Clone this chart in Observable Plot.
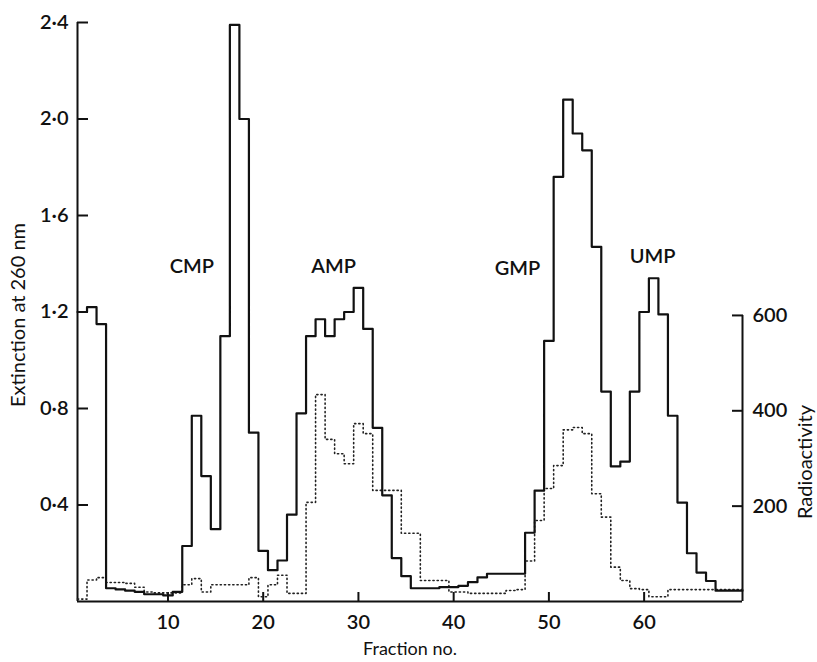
<!DOCTYPE html>
<html>
<head>
<meta charset="utf-8">
<script src="https://cdn.jsdelivr.net/npm/d3@7"></script>
<script src="https://cdn.jsdelivr.net/npm/@observablehq/plot@0.6"></script>
<style>
  html, body { margin: 0; padding: 0; background: #fff; }
  #chart svg { display: block; }
</style>
</head>
<body>
<div id="chart"></div>
<script>
// ---- Data ----
const fractions = d3.range(1, 71); // fraction numbers 1..70

// Extinction at 260 nm (solid step line, left axis)
const extinction = [
  1.20, 1.22, 1.15, 0.055, 0.05, 0.045, 0.04, 0.03, 0.03, 0.025,
  0.04, 0.23, 0.77, 0.52, 0.30, 1.10, 2.39, 2.00, 0.70, 0.21,
  0.13, 0.17, 0.36, 0.78, 1.10, 1.17, 1.10, 1.17, 1.20, 1.30,
  1.13, 0.72, 0.44, 0.18, 0.105, 0.055, 0.055, 0.055, 0.06, 0.06,
  0.065, 0.08, 0.10, 0.115, 0.115, 0.115, 0.115, 0.285, 0.46, 1.08,
  1.76, 2.08, 1.94, 1.87, 1.47, 0.87, 0.56, 0.58, 0.87, 1.20,
  1.34, 1.19, 0.77, 0.41, 0.20, 0.12, 0.085, 0.045, 0.045, 0.045
];

// Radioactivity (dotted step line, right axis)
const radioactivity = [
  5, 45, 50, 40, 40, 38, 30, 20, 18, 18,
  18, 35, 48, 20, 35, 35, 35, 35, 50, 10,
  35, 55, 17, 17, 208, 434, 340, 310, 289, 373,
  352, 233, 233, 233, 143, 143, 44, 44, 44, 20,
  20, 17, 17, 17, 17, 23, 25, 85, 170, 237,
  285, 360, 365, 352, 226, 177, 72, 44, 27, 25,
  10, 10, 25, 25, 25, 25, 25, 25, 25, 25
];

const extinctionTicks = [0.4, 0.8, 1.2, 1.6, 2.0, 2.4];
const radioTicks = [200, 400, 600];
const fractionTicks = [10, 20, 30, 40, 50, 60];

const peakNames = ["CMP", "AMP", "GMP", "UMP"];
const peakFraction = [12.5, 27.4, 46.7, 60.9];
const peakLevel = [1.39, 1.39, 1.38, 1.43];

// radioactivity counts that correspond to one extinction unit on the shared vertical scale
const RADIO_PER_UNIT = 506;
const xMin = 0.5, xMax = 70.33;

function steps(values) {
  const pts = fractions.map((f, i) => ({x: f - 0.5, y: values[i]}));
  pts.push({x: xMax, y: values[values.length - 1]});
  return pts;
}

const solidSteps = steps(extinction);
const dottedSteps = steps(radioactivity.map(r => r / RADIO_PER_UNIT));

const font = "Lato, 'Open Sans', 'DejaVu Sans', sans-serif";

const chart = Plot.plot({
  width: 817,
  height: 662,
  marginLeft: 77,
  marginRight: 75,
  marginTop: 22,
  marginBottom: 61,
  x: {domain: [xMin, xMax]},
  y: {domain: [0, 2.4]},
  style: {fontFamily: font, color: "#111", background: "#fff", overflow: "visible"},
  marks: [
    // axis lines
    Plot.ruleX([xMin], {y1: 0, y2: 2.4, stroke: "#111", strokeWidth: 2}),
    Plot.ruleX([xMax], {y1: 0, y2: radioTicks[radioTicks.length - 1] / RADIO_PER_UNIT, stroke: "#111", strokeWidth: 2}),
    Plot.ruleY([0], {x1: xMin, x2: xMax, stroke: "#111", strokeWidth: 2}),

    // axes (inward ticks)
    Plot.axisY(extinctionTicks, {
      anchor: "left", tickSize: -11, tickPadding: 20, strokeWidth: 2,
      tickFormat: d => d.toFixed(1).replace(".", "\u00b7"),
      fontSize: 20, fontWeight: 600, label: null
    }),
    Plot.axisY(radioTicks.map(r => r / RADIO_PER_UNIT), {
      anchor: "right", tickSize: -11, tickPadding: 21, strokeWidth: 2,
      tickFormat: d => String(Math.round(d * RADIO_PER_UNIT)),
      fontSize: 20, fontWeight: 600, label: null
    }),
    Plot.axisX(fractionTicks, {
      anchor: "bottom", tickSize: -9, tickPadding: 22, strokeWidth: 2,
      tickFormat: d => String(d),
      fontSize: 20, fontWeight: 600, label: null
    }),

    // data
    Plot.line(dottedSteps, {
      x: "x", y: "y", curve: "step-after",
      stroke: "#222", strokeWidth: 1.6, strokeDasharray: "1.2,3"
    }),
    Plot.line(solidSteps, {
      x: "x", y: "y", curve: "step-after",
      stroke: "#111", strokeWidth: 2.2
    }),

    // peak annotations
    Plot.text(peakNames, {
      x: (d, i) => peakFraction[i], y: (d, i) => peakLevel[i], text: d => d,
      fontSize: 20, fontWeight: 600, fill: "#111"
    }),

    // axis titles
    Plot.text(["Extinction at 260 nm"], {
      text: d => d, frameAnchor: "left", textAnchor: "middle", dx: -59, dy: 3,
      rotate: -90, fontSize: 20, fill: "#111"
    }),
    Plot.text(["Radioactivity"], {
      text: d => d, frameAnchor: "right", textAnchor: "middle", dx: 63, dy: 150,
      rotate: -90, fontSize: 20, fill: "#111"
    }),
    Plot.text(["Fraction no."], {
      text: d => d, frameAnchor: "bottom", dy: 53, fontSize: 18, fill: "#111"
    })
  ]
});

document.getElementById("chart").appendChild(chart);
</script>
</body>
</html>
